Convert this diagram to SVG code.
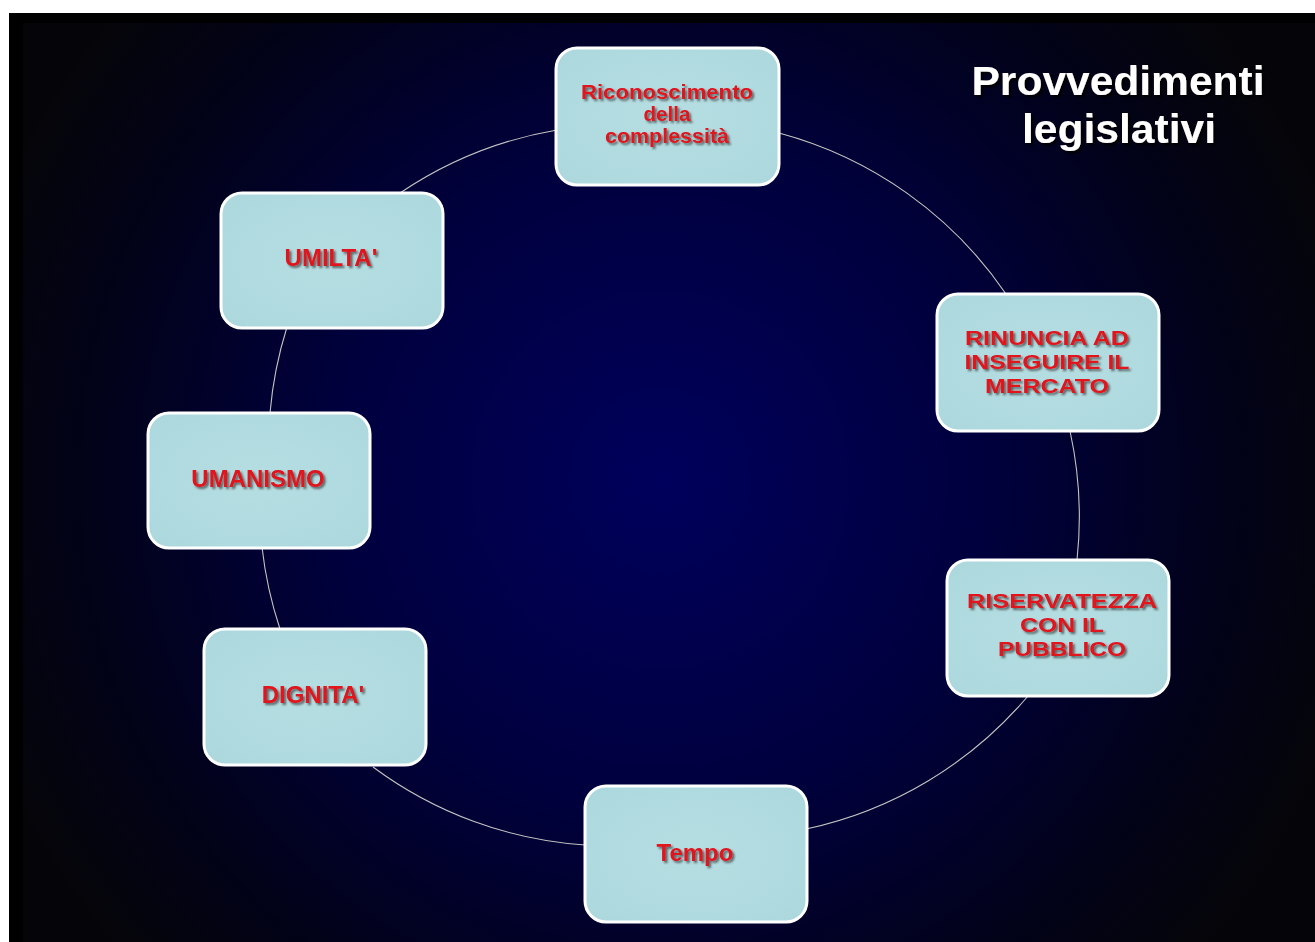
<svg xmlns="http://www.w3.org/2000/svg" width="1315" height="942" viewBox="0 0 1315 942">
  <defs>
    <radialGradient id="bg" cx="660" cy="480" r="720" gradientUnits="userSpaceOnUse">
      <stop offset="0" stop-color="#00005c"/>
      <stop offset="0.45" stop-color="#00003e"/>
      <stop offset="0.8" stop-color="#020218"/>
      <stop offset="1" stop-color="#050509"/>
    </radialGradient>
    <radialGradient id="boxfill" cx="0.5" cy="0.5" r="0.7">
      <stop offset="0" stop-color="#b5dee2"/>
      <stop offset="1" stop-color="#acd8dd"/>
    </radialGradient>
    <filter id="tshadow" x="-10%" y="-30%" width="120%" height="160%">
      <feDropShadow dx="2" dy="2" stdDeviation="1.3" flood-color="#3a3a3a" flood-opacity="0.75"/>
    </filter>
    <filter id="wshadow" x="-10%" y="-30%" width="120%" height="160%">
      <feDropShadow dx="2.5" dy="2.5" stdDeviation="1.2" flood-color="#000000" flood-opacity="0.9"/>
    </filter>
  </defs>
  <style>
    .box { fill: url(#boxfill); stroke: #ffffff; stroke-width: 3; }
    .lbl { font-family: "Liberation Sans", Arial, sans-serif; font-weight: bold; fill: #e0121f; text-anchor: middle; filter: url(#tshadow); }
    .caps { font-size: 24px; }
    .ml { font-size: 21px; }
    .mixed { font-size: 20px; }
    .conn { fill: none; stroke: #c4c4c4; stroke-width: 1.1; }
    .title { font-family: "Liberation Sans", Arial, sans-serif; font-weight: bold; fill: #ffffff; font-size: 40px; text-anchor: middle; filter: url(#wshadow); }
  </style>

  <rect x="0" y="0" width="1315" height="942" fill="#ffffff"/>
  <rect x="9" y="13" width="1306" height="929" fill="#000000"/>
  <rect x="23" y="23" width="1292" height="919" fill="url(#bg)"/>

  <g id="connectors">
    <path class="conn" d="M 400 193 A 400 400 0 0 1 557 130"/>
    <path class="conn" d="M 779 133 A 400 400 0 0 1 1006 294"/>
    <path class="conn" d="M 1070 431 A 400 400 0 0 1 1077 560"/>
    <path class="conn" d="M 1028 696 A 400 400 0 0 1 806 829"/>
    <path class="conn" d="M 585 845 A 400 400 0 0 1 373 767"/>
    <path class="conn" d="M 280 629 A 400 400 0 0 1 262 547"/>
    <path class="conn" d="M 270 413 A 400 400 0 0 1 287 327"/>
  </g>

  <g id="title">
    <text class="title" x="1118" y="95" textLength="293" lengthAdjust="spacingAndGlyphs">Provvedimenti</text>
    <text class="title" x="1119" y="143" textLength="194" lengthAdjust="spacingAndGlyphs">legislativi</text>
  </g>

  <g id="node-riconoscimento">
    <rect class="box" x="556" y="48" width="223" height="137" rx="21"/>
    <text class="lbl mixed" x="667" y="99" textLength="172" lengthAdjust="spacingAndGlyphs">Riconoscimento</text>
    <text class="lbl mixed" x="667" y="121" textLength="47" lengthAdjust="spacingAndGlyphs">della</text>
    <text class="lbl mixed" x="667" y="143" textLength="124" lengthAdjust="spacingAndGlyphs">complessità</text>
  </g>

  <g id="node-rinuncia">
    <rect class="box" x="937" y="294" width="222" height="137" rx="21"/>
    <text class="lbl ml" x="1047" y="345" textLength="164" lengthAdjust="spacingAndGlyphs">RINUNCIA AD</text>
    <text class="lbl ml" x="1047" y="369" textLength="165" lengthAdjust="spacingAndGlyphs">INSEGUIRE IL</text>
    <text class="lbl ml" x="1047" y="393" textLength="124" lengthAdjust="spacingAndGlyphs">MERCATO</text>
  </g>

  <g id="node-riservatezza">
    <rect class="box" x="947" y="560" width="222" height="136" rx="21"/>
    <text class="lbl ml" x="1062" y="608" textLength="190" lengthAdjust="spacingAndGlyphs">RISERVATEZZA</text>
    <text class="lbl ml" x="1062" y="632" textLength="84" lengthAdjust="spacingAndGlyphs">CON IL</text>
    <text class="lbl ml" x="1062" y="656" textLength="128" lengthAdjust="spacingAndGlyphs">PUBBLICO</text>
  </g>

  <g id="node-tempo">
    <rect class="box" x="585" y="786" width="222" height="136" rx="21"/>
    <text class="lbl caps" x="695" y="861">Tempo</text>
  </g>

  <g id="node-dignita">
    <rect class="box" x="204" y="629" width="222" height="136" rx="21"/>
    <text class="lbl caps" x="313" y="703">DIGNITA'</text>
  </g>

  <g id="node-umanismo">
    <rect class="box" x="148" y="413" width="222" height="135" rx="21"/>
    <text class="lbl caps" x="258" y="487">UMANISMO</text>
  </g>

  <g id="node-umilta">
    <rect class="box" x="221" y="193" width="222" height="135" rx="21"/>
    <text class="lbl caps" x="331" y="266">UMILTA'</text>
  </g>
</svg>
